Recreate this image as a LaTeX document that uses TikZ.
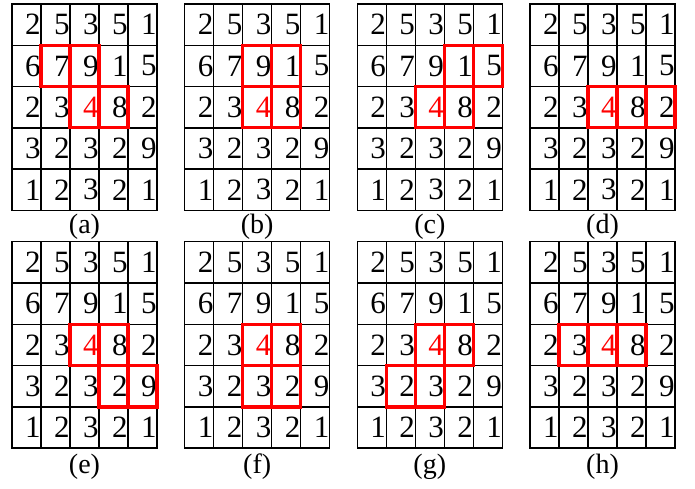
\documentclass[tikz,border=0pt]{standalone}
\usepackage{fontspec}
\setmainfont{Liberation Serif}
\begin{document}
\begin{tikzpicture}[x=1pt,y=-1pt]
\tikzset{
  cell/.style={draw=black, line width=1.5pt, minimum width=29pt, minimum height=41.3pt,
    inner sep=0pt, outer sep=0pt, text width=28.3pt, align=right,
    font=\fontsize{31}{33}\selectfont},
  hl/.style={draw=red, line width=3.2pt},
  lab/.style={font=\fontsize{28}{30}\selectfont, inner sep=0pt}
}
\useasboundingbox (0,0) rectangle (695,489);
\foreach \g/\x/\y/\ly in {a/12/4/227, b/184.7/4/227, c/357.3/4/227, d/530/4/227,
                          e/12/241.7/467, f/184.7/241.7/467, g/357.3/241.7/467, h/530/241.7/467}{
  \foreach \row [count=\r from 0] in {{2,5,3,5,1},{6,7,9,1,5},{2,3,4,8,2},{3,2,3,2,9},{1,2,3,2,1}}{
    \foreach \v [count=\c from 0] in \row {
      \ifnum\r\c=22 \def\tcol{red}\else\def\tcol{black}\fi
      \node[cell, text=\tcol] (g-\g-\r-\c) at (\x+14.5+29*\c, \y+20.65+41.3*\r) {\v};
    }
  }
  \node[lab] (lab-\g) at (\x+72.5, \ly) {(\g)};
}
\foreach \g/\cells in {a/{1/1,1/2,2/2,2/3}, b/{1/2,1/3,2/2,2/3}, c/{1/3,1/4,2/2,2/3},
                       d/{2/2,2/3,2/4}, e/{2/2,2/3,3/3,3/4}, f/{2/2,2/3,3/2,3/3},
                       g/{2/2,2/3,3/1,3/2}, h/{2/1,2/2,2/3}}{
  \foreach \r/\c in \cells {
    \draw[hl] (g-\g-\r-\c.north west) rectangle (g-\g-\r-\c.south east);
  }
}
\end{tikzpicture}
\end{document}
